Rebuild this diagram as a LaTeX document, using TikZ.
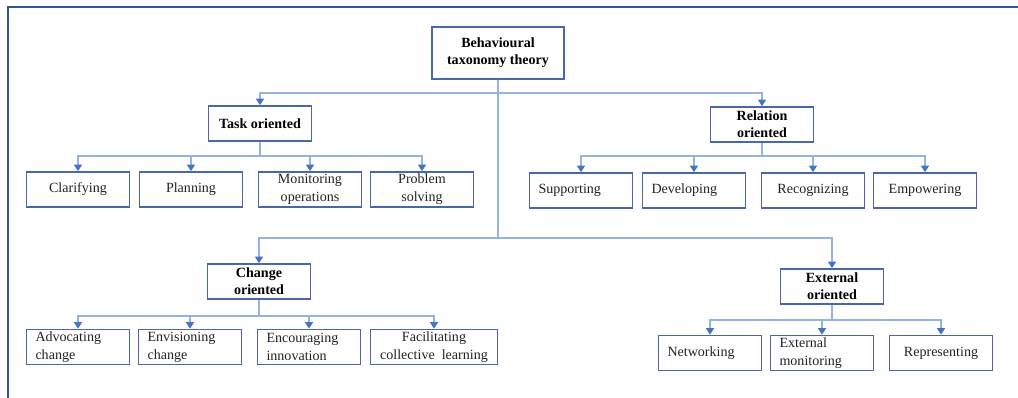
\documentclass[tikz,border=0pt]{standalone}
\usepackage{fontspec}
\setmainfont{Liberation Serif}
\usetikzlibrary{arrows.meta,positioning}
\definecolor{frameblue}{RGB}{47,85,151}
\definecolor{boxblue}{RGB}{72,104,170}
\definecolor{wireblue}{RGB}{150,178,224}
\definecolor{tipblue}{RGB}{68,114,196}
\definecolor{ink}{RGB}{35,35,35}
\tikzset{
  box/.style={draw=boxblue,line width=1pt,minimum width=#1,minimum height=0.7cm,
    inner sep=0pt,align=center,text=ink,font=\fontsize{8}{10.2}\selectfont},
  box/.default=2.06cm,
  leftbox/.style={box,text width=1.7cm,inner xsep=0.18cm,align=left},
  headbox/.style={box,text=black,font=\fontsize{8}{9.8}\selectfont\bfseries},
  link/.style={draw=wireblue,line width=0.9pt,
    -{Triangle[length=1.3mm,width=1.6mm,color=tipblue]}},
  trunk/.style={draw=wireblue,line width=0.9pt},
  frame/.style={draw=frameblue,line width=1.2pt},
}
\begin{document}
\begin{tikzpicture}[x=0.02cm,y=-0.02cm]
  \useasboundingbox (0,0) rectangle (1018,398);
  \draw[frame] (8,398) -- (8,7) -- (1018,7);

  % root and the four groups
  \node[headbox,minimum width=2.64cm,minimum height=1.04cm] (root) at (498,53) {Behavioural\\taxonomy theory};
  \node[headbox] (task) at (260,123.5) {Task oriented};
  \node[headbox] (rel) at (762,124.5) {Relation\\oriented};
  \node[headbox] (chg) at (259,281.5) {Change\\oriented};
  \node[headbox] (ext) at (832,286.5) {External\\oriented};

  % task oriented
  \node[box] (clar) at (78,189.5) {Clarifying};
  \node[box] (plan) at (191,189.5) {Planning};
  \node[box] (moni) at (310,189.5) {Monitoring\\operations};
  \node[box] (prob) at (422,189.5) {Problem\\solving};

  % relation oriented
  \node[leftbox] (supp) at (581,190.5) {Supporting};
  \node[leftbox] (deve) at (694,190.5) {Developing};
  \node[box] (reco) at (813,190.5) {Recognizing};
  \node[box] (empo) at (925,190.5) {Empowering};

  % change oriented
  \node[leftbox] (advo) at (78,347) {Advocating\\change};
  \node[leftbox] (envi) at (190,347) {Envisioning\\change};
  \node[leftbox] (enco) at (309,347) {Encouraging\\innovation};
  \node[box=2.54cm] (faci) at (434,347) {Facilitating\\collective\ \ learning};

  % external oriented
  \node[leftbox] (netw) at (710,353) {Networking};
  \node[leftbox] (exmo) at (822,353) {External\\monitoring};
  \node[box] (repr) at (941,353) {Representing};

  % connectors
  \coordinate (upper) at (498,93);
  \coordinate (lower) at (498,238);
  \draw[trunk] (root.south) -- (lower);
  \draw[link] (upper) -| (task.north);
  \draw[link] (upper) -| (rel.north);
  \draw[link] (lower) -| (chg.north);
  \draw[link] (lower) -| (ext.north);
  \foreach \k in {clar,plan,moni,prob} \draw[link] (task.south) -- ++(0,14) -| (\k.north);
  \foreach \k in {supp,deve,reco,empo} \draw[link] (rel.south) -- ++(0,13) -| (\k.north);
  \foreach \k in {advo,envi,enco,faci} \draw[link] (chg.south) -- ++(0,16) -| (\k.north);
  \foreach \k in {netw,exmo,repr} \draw[link] (ext.south) -- ++(0,15) -| (\k.north);
\end{tikzpicture}
\end{document}
